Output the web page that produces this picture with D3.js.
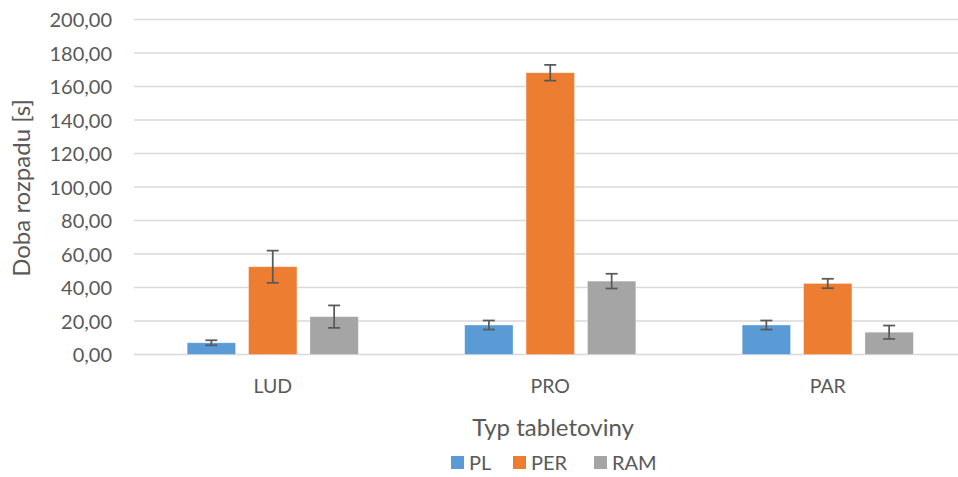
<!DOCTYPE html>
<html><head><meta charset="utf-8">
<script src="https://cdn.jsdelivr.net/npm/d3@7"></script>
<style>body{margin:0;background:#fff}svg{display:block}text{font-family:Lato,"Open Sans",sans-serif;fill:#595959}</style>
</head><body><svg id="c" width="958" height="477"></svg>
<script>
const categories = ["LUD", "PRO", "PAR"];
const seriesNames = ["PL", "PER", "RAM"];
const seriesColors = ["#5B9BD5", "#ED7D31", "#A5A5A5"];
const PL  = [7.0, 17.6, 17.6];
const PER = [52.4, 168.2, 42.4];
const RAM = [22.6, 43.8, 13.3];
const PL_err  = [1.5, 2.7, 2.7];
const PER_err = [9.6, 4.7, 2.8];
const RAM_err = [6.7, 4.4, 4.0];
const yTicks = [0, 20, 40, 60, 80, 100, 120, 140, 160, 180, 200];

const values = [PL, PER, RAM];
const errs = [PL_err, PER_err, RAM_err];
const svg = d3.select("#c");
const x0 = d3.scaleBand().domain(categories).range([134, 966.5]);
const y = d3.scaleLinear().domain([0, 200]).range([354.5, 19.5]);
const step = x0.bandwidth();
const bw = step / (3 + 2 * 0.27 + 2.2);
const gap = bw * 0.27;
const x1 = d3.scaleBand().domain(seriesNames).range([0, 3 * bw + 2 * gap]).paddingInner(gap / (bw + gap));
const groupOff = (step - (3 * bw + 2 * gap)) / 2;

// gridlines
svg.append("g").selectAll("line").data(yTicks).join("line")
  .attr("x1", 134).attr("x2", 958)
  .attr("y1", d => y(d)).attr("y2", d => y(d))
  .attr("stroke", "#D9D9D9").attr("stroke-width", 1.5);

// y axis labels
const yAxis = d3.axisLeft(y).tickValues(yTicks).tickSize(0).tickPadding(0)
  .tickFormat(d => d3.format(".2f")(d).replace(".", ","));
const ya = svg.append("g").attr("transform", "translate(112,0)").call(yAxis);
ya.select(".domain").remove();
ya.selectAll("text").attr("font-size", 20).style("font-family", "Lato,'Open Sans',sans-serif").attr("fill", "#595959").attr("dy", "0.35em");

// bars
seriesNames.forEach((s, si) => {
  const g = svg.append("g");
  g.selectAll("rect").data(categories).join("rect")
    .attr("x", c => x0(c) + groupOff + x1(s))
    .attr("width", x1.bandwidth())
    .attr("y", (c, i) => y(values[si][i]))
    .attr("height", (c, i) => y(0) - y(values[si][i]))
    .attr("fill", seriesColors[si])
    .attr("stroke", "#fff").attr("stroke-opacity", 0.4).attr("stroke-width", 0.75);
  const e = svg.append("g").attr("stroke", "#595959").attr("stroke-width", 1.75);
  categories.forEach((c, i) => {
    const cx = x0(c) + groupOff + x1(s) + x1.bandwidth() / 2;
    const v = values[si][i], er = errs[si][i];
    e.append("line").attr("x1", cx).attr("x2", cx).attr("y1", y(v + er)).attr("y2", y(v - er));
    e.append("line").attr("x1", cx - 6).attr("x2", cx + 6).attr("y1", y(v + er)).attr("y2", y(v + er));
    e.append("line").attr("x1", cx - 6).attr("x2", cx + 6).attr("y1", y(v - er)).attr("y2", y(v - er));
  });
});

// x axis labels
const xAxis = d3.axisBottom(x0).tickSize(0).tickPadding(0);
const xa = svg.append("g").attr("transform", "translate(0,379)").call(xAxis);
xa.select(".domain").remove();
xa.selectAll("text").attr("font-size", 19.5).style("font-family", "Lato,'Open Sans',sans-serif").attr("fill", "#595959").attr("dy", "0.71em");

// titles
svg.append("text").attr("x", 553).attr("y", 436).attr("text-anchor", "middle").attr("font-size", 24).text("Typ tabletoviny");
svg.append("text").attr("transform", "translate(30,188) rotate(-90)").attr("text-anchor", "middle").attr("font-size", 24).text("Doba rozpadu [s]");

// legend
const legX = [451, 513, 594];
const leg = svg.append("g");
seriesNames.forEach((s, i) => {
  leg.append("rect").attr("x", legX[i]).attr("y", 456).attr("width", 13).attr("height", 13).attr("fill", seriesColors[i]);
  leg.append("text").attr("x", legX[i] + 18).attr("y", 470).attr("font-size", 20).text(s);
});
</script></body></html>
